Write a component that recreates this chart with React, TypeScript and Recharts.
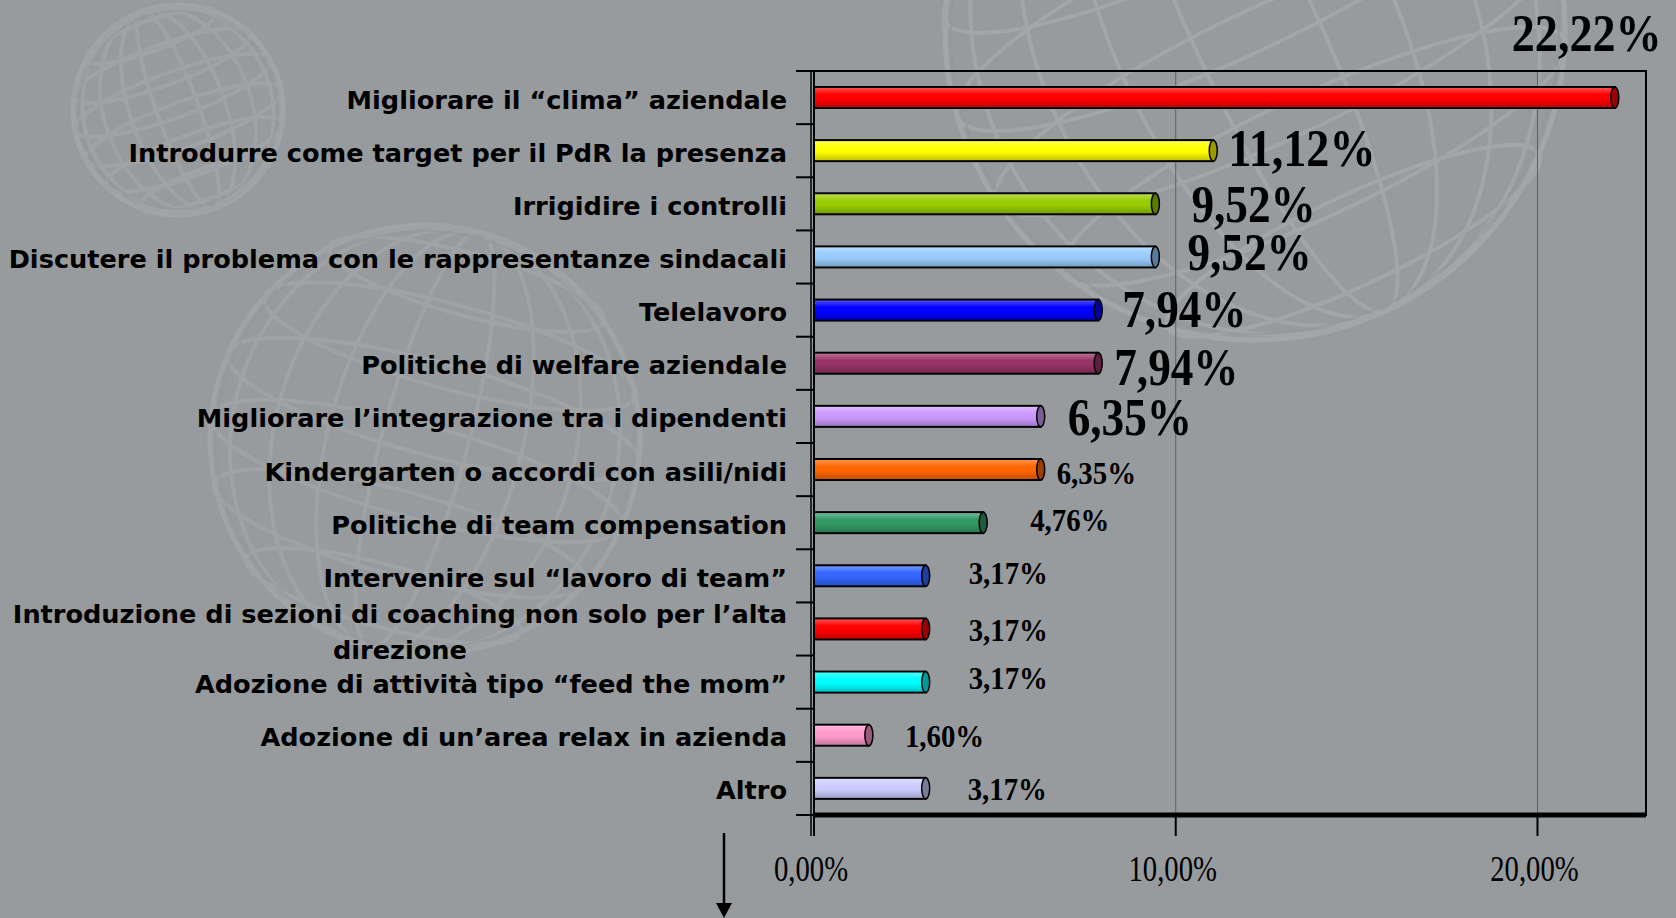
import React from 'react';
import { BarChart, Bar, XAxis, YAxis, CartesianGrid, ReferenceArea, LabelList, Cell } from 'recharts';

const categories = [
  'Migliorare il “clima” aziendale',
  'Introdurre come target per il PdR la presenza',
  'Irrigidire i controlli',
  'Discutere il problema con le rappresentanze sindacali',
  'Telelavoro',
  'Politiche di welfare aziendale',
  'Migliorare l’integrazione tra i dipendenti',
  'Kindergarten o accordi con asili/nidi',
  'Politiche di team compensation',
  'Intervenire sul “lavoro di team” ',
  'Introduzione di sezioni di coaching non solo per l’alta\ndirezione',
  'Adozione di attività tipo “feed the mom”',
  'Adozione di un’area relax in azienda',
  'Altro',
];

const values = [22.22, 11.12, 9.52, 9.52, 7.94, 7.94, 6.35, 6.35, 4.76, 3.17, 3.17, 3.17, 1.6, 3.17];

const barColors = [
  '#ff0000', '#ffff00', '#99cc00', '#99ccff', '#0000ff', '#993366', '#cc99ff',
  '#ff6600', '#339966', '#3366ff', '#ff0000', '#00ffff', '#ff99cc', '#ccccff',
];

const xTicks = [0, 10, 20];
const xDomain = [0, 23];

// label styling: font size, horizontal squeeze and offset from bar end / bar centre
const labelStyles = [
  { size: 53, sx: 0.87, dx: -106, dy: -47 },
  { size: 53, sx: 0.87, dx: 12, dy: 15 },
  { size: 52, sx: 0.87, dx: 33, dy: 18 },
  { size: 52, sx: 0.87, dx: 29, dy: 13 },
  { size: 52, sx: 0.87, dx: 21, dy: 17 },
  { size: 52, sx: 0.87, dx: 13, dy: 22 },
  { size: 52, sx: 0.87, dx: 24, dy: 19 },
  { size: 31, sx: 0.93, dx: 13, dy: 14 },
  { size: 31, sx: 0.93, dx: 44, dy: 8 },
  { size: 31, sx: 0.93, dx: 40, dy: 8 },
  { size: 31, sx: 0.93, dx: 40, dy: 12 },
  { size: 31, sx: 0.93, dx: 40, dy: 7 },
  { size: 31, sx: 0.93, dx: 33, dy: 12 },
  { size: 31, sx: 0.93, dx: 39, dy: 12 },
];

const fmtPct = (v: number) => v.toFixed(2).replace('.', ',') + '%';

const data = categories.map((name, i) => ({ name, value: values[i] }));

const BG = '#979b9e';
const CAT_FONT = "'DejaVu Sans', sans-serif";
const CAT_SIZE = 25.6;
const SERIF = "'Liberation Serif', 'Times New Roman', serif";
const Y_TICK_SIZE = 18;
const Y_TICK_MARGIN = 9;

function darken(hex: string, f: number) {
  const n = parseInt(hex.slice(1), 16);
  const r = Math.round(((n >> 16) & 255) * f);
  const g = Math.round(((n >> 8) & 255) * f);
  const b = Math.round((n & 255) * f);
  return `rgb(${r},${g},${b})`;
}

let measureCtx: CanvasRenderingContext2D | null = null;
function measure(text: string, font: string) {
  if (!measureCtx) measureCtx = document.createElement('canvas').getContext('2d');
  if (!measureCtx) return text.length * 14;
  measureCtx.font = font;
  return measureCtx.measureText(text).width;
}

const CylinderBar = (p: any) => {
  const { x, y, width, height, fill, index } = p;
  if (!width || width <= 0) return null;
  const rx = 4;
  const id = `shade-${index}`;
  const w = width - 3;
  return (
    <g>
      <defs>
        <linearGradient id={id} x1="0" y1="0" x2="0" y2="1">
          <stop offset="0" stopColor="#fff" stopOpacity={0.3} />
          <stop offset="0.35" stopColor="#fff" stopOpacity={0} />
          <stop offset="0.65" stopColor="#000" stopOpacity={0.04} />
          <stop offset="1" stopColor="#000" stopOpacity={0.22} />
        </linearGradient>
      </defs>
      <rect x={x} y={y} width={w} height={height} fill={fill} stroke="#000" strokeWidth={2} />
      <rect x={x + 1} y={y + 1} width={w - 1} height={height - 2} fill={`url(#${id})`} />
      <ellipse cx={x + w} cy={y + height / 2} rx={rx} ry={height / 2} fill={darken(fill, 0.6)} stroke="#000" strokeWidth={1.5} />
    </g>
  );
};

const ValueLabel = (p: any) => {
  const { x, y, width, height, index } = p;
  const s = labelStyles[index];
  if (!s) return null;
  const tx = x + width + s.dx;
  const ty = y + height / 2 + s.dy;
  return (
    <text
      transform={`translate(${tx},${ty}) scale(${s.sx},1)`}
      fontFamily={SERIF}
      fontWeight="bold"
      fontSize={s.size}
      fill="#000"
    >
      {fmtPct(values[index])}
    </text>
  );
};

const CategoryTick = (p: any) => {
  const { x, y, payload, index } = p;
  const axisX = x + Y_TICK_SIZE + Y_TICK_MARGIN;
  const half = payload && payload.offset ? payload.offset : 26.57;
  const lines = String(payload.value).split('\n');
  const font = `bold ${CAT_SIZE}px 'DejaVu Sans'`;
  const tickTop = y - half;
  const isLast = index === categories.length - 1;
  let textEl;
  if (lines.length === 1) {
    textEl = (
      <text x={x} y={y + 11} textAnchor="end" fontFamily={CAT_FONT} fontWeight="bold" fontSize={CAT_SIZE} fill="#000">
        {lines[0]}
      </text>
    );
  } else {
    const w = Math.max(...lines.map((l) => measure(l, font)));
    const cx = x - w / 2;
    textEl = (
      <text textAnchor="middle" fontFamily={CAT_FONT} fontWeight="bold" fontSize={CAT_SIZE} fill="#000">
        {lines.map((l, i) => (
          <tspan key={i} x={cx} y={y - 6 + i * 36}>
            {l}
          </tspan>
        ))}
      </text>
    );
  }
  return (
    <g>
      <line x1={axisX - Y_TICK_SIZE} x2={axisX} y1={tickTop} y2={tickTop} stroke="#000" strokeWidth={2} />
      {isLast && (
        <line x1={axisX - Y_TICK_SIZE} x2={axisX} y1={y + half} y2={y + half} stroke="#000" strokeWidth={2} />
      )}
      <line x1={axisX - 3} x2={axisX - 3} y1={tickTop} y2={isLast ? y + half + 21 : y + half} stroke="#000" strokeWidth={1.5} />
      {textEl}
    </g>
  );
};

const XTick = (p: any) => {
  const { x, y, payload } = p;
  const tx = x - 3;
  const ty = y + 45;
  return (
    <text
      transform={`translate(${tx},${ty}) scale(0.82,1)`}
      textAnchor="middle"
      fontFamily={SERIF}
      fontSize={35}
      fill="#000"
    >
      {fmtPct(payload.value)}
    </text>
  );
};

function Globe({ cx, cy, r, rot, op }: { cx: number; cy: number; r: number; rot: number; op: number }) {
  const merid = [0.2, 0.45, 0.7, 0.9];
  const par = [-0.75, -0.45, -0.15, 0.15, 0.45, 0.75];
  return (
    <g transform={`translate(${cx},${cy}) rotate(${rot})`} fill="none" opacity={op}>
      <circle r={r} stroke="#b9bcbe" strokeWidth={5} />
      {merid.map((m, i) => (
        <ellipse key={'m' + i} rx={r * m} ry={r} stroke="#b5b8ba" strokeWidth={4} />
      ))}
      {par.map((q, i) => {
        const rr = r * Math.sqrt(1 - q * q);
        return <ellipse key={'p' + i} cx={0} cy={r * q} rx={rr} ry={rr * 0.22} stroke="#b5b8ba" strokeWidth={4} />;
      })}
      <circle r={r - 6} stroke="#8c8f92" strokeWidth={2} opacity={0.6} />
    </g>
  );
}

export default function App() {
  return (
    <div style={{ position: 'fixed', left: 0, top: 0, width: 1676, height: 918, background: BG, overflow: 'hidden' }}>
      <svg width={1676} height={918} style={{ position: 'absolute', left: 0, top: 0 }}>
        <Globe cx={178} cy={110} r={105} rot={-20} op={0.3} />
        <Globe cx={425} cy={440} r={215} rot={15} op={0.28} />
        <Globe cx={1255} cy={30} r={310} rot={-25} op={0.38} />
        <line x1={724} x2={724} y1={833} y2={905} stroke="#000" strokeWidth={2.5} />
        <polygon points="716,903 732,903 724,918" fill="#000" />
      </svg>
      <div style={{ position: 'absolute', left: 0, top: 0 }}>
        <BarChart
          width={1676}
          height={918}
          data={data}
          layout="vertical"
          margin={{ top: 71, right: 30, bottom: 0, left: 0 }}
          barSize={21}
        >
          <CartesianGrid horizontal={false} vertical stroke="#5e6164" strokeWidth={1} />
          <ReferenceArea x1={0} x2={23} fill="none" stroke="#000" strokeWidth={2} fillOpacity={0} />
          <XAxis
            type="number"
            domain={xDomain}
            ticks={xTicks}
            allowDataOverflow
            height={103}
            tickSize={21}
            tickMargin={0}
            axisLine={{ stroke: '#000', strokeWidth: 5 }}
            tickLine={{ stroke: '#000', strokeWidth: 2 }}
            tick={<XTick />}
            interval={0}
          />
          <YAxis
            type="category"
            dataKey="name"
            width={814}
            tickSize={Y_TICK_SIZE}
            tickMargin={Y_TICK_MARGIN}
            axisLine={{ stroke: '#000', strokeWidth: 2 }}
            tickLine={{ stroke: 'none' }}
            tick={<CategoryTick />}
            interval={0}
          />
          <Bar dataKey="value" isAnimationActive={false} shape={<CylinderBar />}>
            {data.map((d, i) => (
              <Cell key={i} fill={barColors[i]} />
            ))}
            <LabelList dataKey="value" content={<ValueLabel />} />
          </Bar>
        </BarChart>
      </div>
    </div>
  );
}
